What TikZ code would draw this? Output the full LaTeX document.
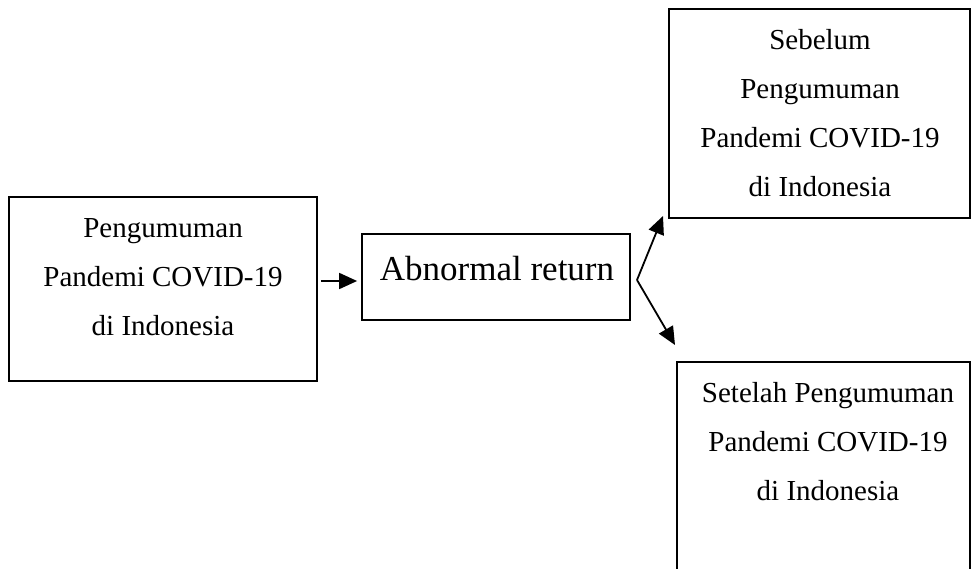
\documentclass[tikz,border=0pt]{standalone}
\usepackage{fontspec}
\setmainfont{Liberation Serif}
\usetikzlibrary{arrows.meta}
\begin{document}
\begin{tikzpicture}[x=1pt,y=-1pt,
  box/.style={draw, line width=1.8pt, inner sep=0pt},
  txt/.style={font=\fontsize{29}{49}\selectfont, align=center, anchor=base, inner sep=0pt},
  big/.style={font=\fontsize{35}{42}\selectfont, anchor=base, inner sep=0pt},
  conn/.style={line width=1.8pt, -{Triangle[length=18pt,width=16pt]}}]
\useasboundingbox (0,0) rectangle (971,569);
\clip (0,0) rectangle (971,569);
\node[box, minimum width=308pt, minimum height=184pt] (L) at (163,289) {};
\node[box, minimum width=268pt, minimum height=86pt] (M) at (496,277) {};
\node[box, minimum width=301pt, minimum height=209pt] (TR) at (819.5,113.5) {};
\node[box, minimum width=293pt, minimum height=278pt] (BR) at (823.5,501) {};
\node[txt] (Lt) at (163,335) {Pengumuman\\Pandemi COVID-19\\di Indonesia};
\node[big] (Mt) at (497,280) {Abnormal return};
\node[txt] (TRt) at (820,197) {Sebelum\\Pengumuman\\Pandemi COVID-19\\di Indonesia};
\node[txt] (BRt) at (828,500) {Setelah Pengumuman\\Pandemi COVID-19\\di Indonesia};
\coordinate (br) at (637,280);
\coordinate (tipU) at (663,216);
\coordinate (tipD) at (675,345);
\draw[conn, shorten <=3pt, shorten >=4pt] (L.east |- 0,281) -- (M.west |- 0,281);
\draw[conn] (br) -- (tipU);
\draw[conn] (br) -- (tipD);
\end{tikzpicture}
\end{document}
